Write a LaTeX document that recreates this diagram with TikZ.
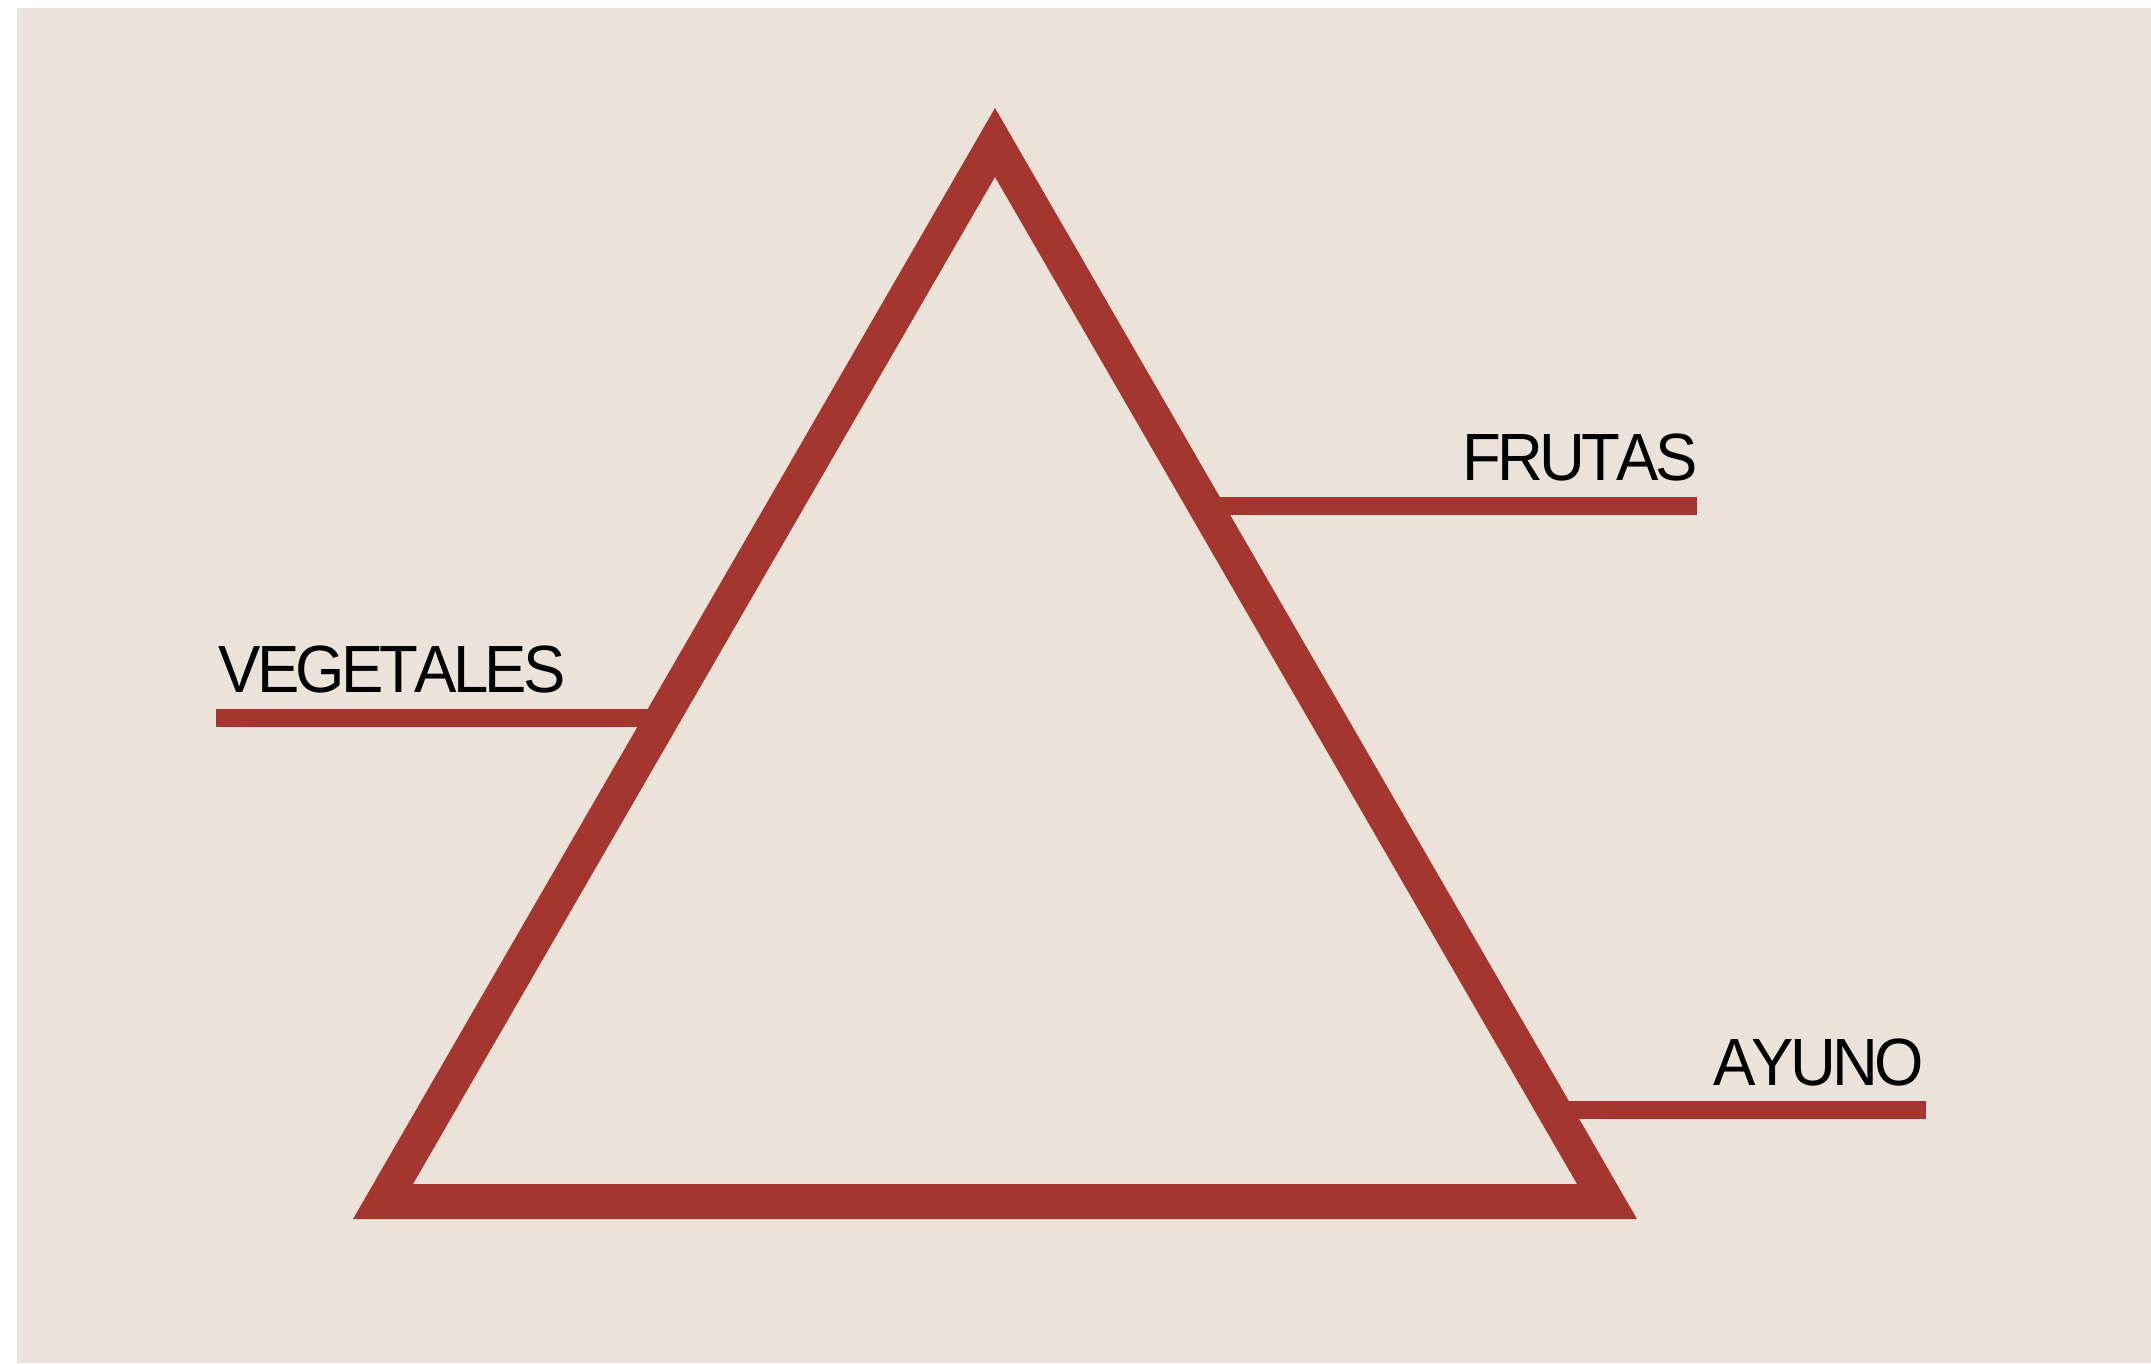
\documentclass[tikz,border=0pt]{standalone}
\usepackage{fontspec}
\setmainfont{Liberation Sans}
\newcommand\tk{\kern-0.06em}
\definecolor{bgbeige}{HTML}{EBE3D9}
\definecolor{pyrred}{HTML}{A5362F}
\begin{document}
\begin{tikzpicture}[x=0.01cm,y=-0.01cm,
  label/.style={inner sep=0pt,font=\fontsize{19pt}{22pt}\selectfont,text=black,xscale=0.95},
  bar/.style={draw=pyrred,line width=0.18cm}]
\useasboundingbox (0,0) rectangle (2151,1363);
\fill[white] (0,0) rectangle (2151,1363);
\fill[bgbeige] (17,8) rectangle (2151,1363);
% guide bars (under the triangle)
\coordinate (vegL) at (216,717.5);
\coordinate (vegR) at (665,717.5);
\coordinate (fruL) at (1205,505.5);
\coordinate (fruR) at (1697,505.5);
\coordinate (ayuL) at (1555,1110);
\coordinate (ayuR) at (1926,1110);
\draw[bar] (vegL) -- (vegR);
\draw[bar] (fruL) -- (fruR);
\draw[bar] (ayuL) -- (ayuR);
% triangle ring
\fill[pyrred,even odd rule]
  (995,108) -- (1637,1219) -- (353,1219) -- cycle
  (995,177) -- (1577,1184) -- (413,1184) -- cycle;
% labels
\node[label,anchor=base west] (veg) at (218,692.7) {V\tk E\tk G\tk E\tk T\tk A\tk L\tk E\tk S};
\node[label,anchor=base east] (fru) at (1698,480) {F\tk R\tk U\tk T\tk A\tk S};
\node[label,anchor=base east] (ayu) at (1924.5,1085) {A\tk Y\tk U\tk N\tk O};
\end{tikzpicture}
\end{document}
